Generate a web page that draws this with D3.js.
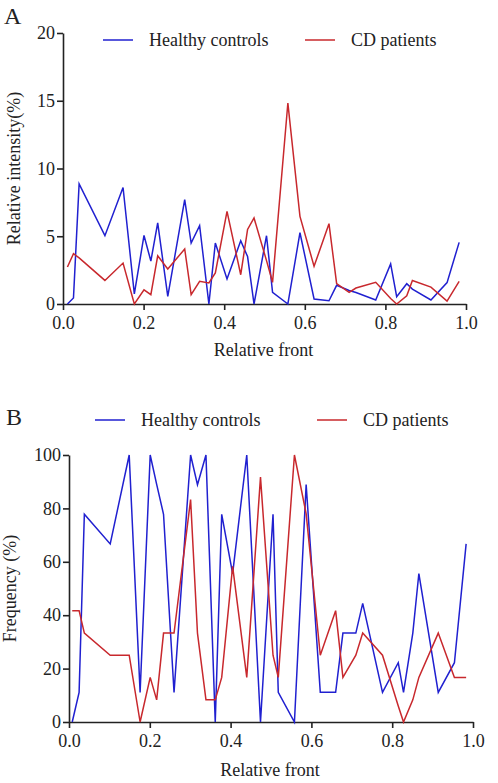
<!DOCTYPE html>
<html>
<head>
<meta charset="utf-8">
<script src="https://cdn.jsdelivr.net/npm/d3@7"></script>
<style>
  html, body { margin: 0; padding: 0; background: #fff; }
  svg { display: block; }
  svg text { font-family: "Liberation Serif", "Times New Roman", Tinos, "DejaVu Serif", serif !important; fill: #222; }
</style>
</head>
<body>
<svg id="chart" width="498" height="783"></svg>
<script>
// ---- Panel A data ----
const frontA = [0.011, 0.026, 0.04, 0.104, 0.149, 0.177, 0.201, 0.218, 0.235, 0.26, 0.302, 0.318, 0.339, 0.362, 0.378, 0.407, 0.441, 0.458, 0.474, 0.505, 0.52, 0.558, 0.588, 0.623, 0.66, 0.679, 0.71, 0.727, 0.776, 0.813, 0.828, 0.853, 0.867, 0.913, 0.953, 0.983];
const healthyA = [0, 0.44, 8.86, 5.04, 8.6, 0.74, 5.06, 3.17, 5.98, 0.56, 7.7, 4.5, 5.78, 0, 4.5, 1.85, 4.67, 3.5, 0, 5.04, 0.86, 0, 5.26, 0.37, 0.24, 1.38, 1.0, 0.85, 0.3, 2.96, 0.54, 1.5, 1.1, 0.3, 1.58, 4.55];
const cdA = [2.73, 3.71, 3.4, 1.74, 3.02, 0, 1.05, 0.69, 3.56, 2.58, 4.06, 0.69, 1.67, 1.55, 2.29, 6.83, 2.16, 5.5, 6.35, 3.2, 1.6, 14.83, 6.47, 2.78, 5.93, 1.5, 0.86, 1.18, 1.6, 0.4, 0, 0.6, 1.74, 1.25, 0.22, 1.67];
const yTicksA = [0, 5, 10, 15, 20];

// ---- Panel B data ----
const frontB = [0.008, 0.025, 0.038, 0.102, 0.149, 0.176, 0.201, 0.217, 0.234, 0.26, 0.301, 0.318, 0.339, 0.362, 0.378, 0.405, 0.44, 0.474, 0.505, 0.518, 0.558, 0.587, 0.622, 0.66, 0.678, 0.71, 0.727, 0.776, 0.815, 0.828, 0.851, 0.866, 0.914, 0.954, 0.983];
const healthyB = [0, 11.1, 77.8, 66.7, 100, 11.1, 100, 89, 77.8, 11.1, 100, 88.9, 100, 0, 77.8, 55.6, 100, 0, 77.8, 11.1, 0, 88.9, 11.1, 11.1, 33.3, 33.3, 44.4, 11.1, 22.2, 11.1, 33.3, 55.6, 11.1, 22.2, 66.7];
const cdB = [41.7, 41.7, 33.3, 25, 25, 0, 16.7, 8.3, 33.3, 33.3, 83.3, 33.3, 8.3, 8.3, 16.7, 58.3, 16.7, 91.7, 25, 16.7, 100, 78, 25, 41.7, 16.7, 25, 33.3, 25, 6, 0, 8.3, 16.7, 33.3, 16.7, 16.7];
const yTicksB = [0, 20, 40, 60, 80, 100];

const xTicks = [0, 0.2, 0.4, 0.6, 0.8, 1.0];
const seriesNames = ["Healthy controls", "CD patients"];
const colors = ["#2020d0", "#c8282d"];

const svg = d3.select("#chart");

function panel(cfg) {
  const x = d3.scaleLinear().domain([0, 1]).range([cfg.left, cfg.right]);
  const y = d3.scaleLinear().domain([0, cfg.ymax]).range([cfg.bottom, cfg.top]);
  const g = svg.append("g");

  const xAxis = g.append("g")
    .attr("transform", `translate(0,${cfg.bottom})`)
    .call(d3.axisBottom(x).tickValues(xTicks).tickFormat(d3.format(".1f")).tickSize(6).tickSizeOuter(0));
  const yAxis = g.append("g")
    .attr("transform", `translate(${cfg.left},0)`)
    .call(d3.axisLeft(y).tickValues(cfg.yTicks).tickSize(6).tickSizeOuter(0));
  [xAxis, yAxis].forEach(a => {
    a.attr("font-family", null);
    a.selectAll("path, line").attr("stroke", "#222").attr("stroke-width", 1.6);
    a.selectAll("text").style("font-size", "18px").attr("fill", "#222");
  });
  xAxis.selectAll("text").attr("dy", "0.9em");
  yAxis.selectAll("text").attr("x", -8);

  const series = [cfg.h, cfg.c];
  series.forEach((vals, i) => {
    const line = d3.line().x((d, j) => x(cfg.front[j])).y(d => y(d));
    g.append("path").datum(vals)
      .attr("fill", "none").attr("stroke", colors[i]).attr("stroke-width", 1.5)
      .attr("stroke-linejoin", "miter").attr("d", line);
  });

  cfg.legend.forEach((lg, i) => {
    g.append("line").attr("x1", lg.x).attr("x2", lg.x + 30).attr("y1", cfg.legendY).attr("y2", cfg.legendY)
      .attr("stroke", colors[i]).attr("stroke-width", 1.5);
    g.append("text").attr("x", lg.x + 46).attr("y", cfg.legendY + 6)
      .style("font-size", "18px").text(seriesNames[i]);
  });

  g.append("text").attr("x", cfg.labelX).attr("y", cfg.labelY).style("font-size", "24px").text(cfg.label);

  g.append("text").attr("x", (cfg.left + cfg.right) / 2 - 1).attr("y", cfg.xTitleY)
    .attr("text-anchor", "middle").style("font-size", "18px").text("Relative front");
  g.append("text").attr("transform", `translate(${cfg.yTitleX},${(cfg.top + cfg.bottom) / 2}) rotate(-90)`)
    .attr("text-anchor", "middle").style("font-size", "18px").text(cfg.yTitle);
}

panel({
  front: frontA, h: healthyA, c: cdA, ymax: 20, yTicks: yTicksA,
  left: 63, right: 466, top: 33, bottom: 304,
  legend: [{x: 103}, {x: 305}], legendY: 40,
  label: "A", labelX: 4, labelY: 24,
  xTitleY: 356, yTitleX: 20, yTitle: "Relative intensity(%)"
});

panel({
  front: frontB, h: healthyB, c: cdB, ymax: 100, yTicks: yTicksB,
  left: 69, right: 473, top: 455, bottom: 722,
  legend: [{x: 95}, {x: 317}], legendY: 420,
  label: "B", labelX: 6, labelY: 425,
  xTitleY: 776, yTitleX: 16, yTitle: "Frequency (%)"
});
</script>
</body>
</html>
